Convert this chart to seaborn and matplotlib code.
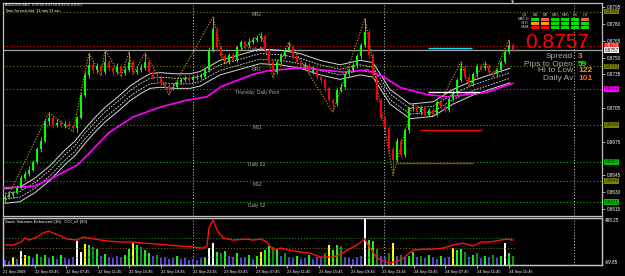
import matplotlib
matplotlib.use("Agg")
import matplotlib.pyplot as plt
import matplotlib.transforms as mtransforms
from matplotlib.patches import Rectangle
import numpy as np
import pandas as pd
import seaborn as sns

# ---------------- data ----------------
BASE = 0.8600          # price of 0 pips
PIP = 0.0001

open_first = 24
close_pips = [26, 27, 29, 34, 43, 46, 50, 57, 68, 76,
              93, 96, 90, 92, 89, 91, 89, 87, 96, 117,
              134, 143, 139, 142, 137, 146, 141, 137, 142, 136,
              139, 146, 137, 139, 141, 146, 137, 133, 132, 127,
              125, 123, 124, 128, 130, 132, 130, 132, 133, 133,
              139, 157, 175, 159, 151, 146, 152, 148, 159, 164,
              161, 164, 166, 167, 169, 157, 146, 137, 146, 152,
              157, 159, 151, 146, 142, 143, 137, 139, 133, 130,
              123, 112, 109, 121, 124, 135, 139, 143, 151, 161,
              173, 152, 134, 112, 96, 87, 68, 59, 76, 63,
              85, 105, 106, 101, 105, 99, 103, 100, 110, 106,
              103, 113, 119, 130, 141, 133, 127, 135, 142, 141,
              142, 137, 135, 139, 146, 155, 161, 157]
high_pips = [28, 30, 31, 36, 45, 49, 53, 59, 70, 79,
             95, 101, 98, 95, 94, 93, 93, 91, 98, 119,
             137, 154, 146, 145, 144, 157, 148, 143, 145, 144,
             142, 155, 148, 142, 144, 154, 148, 139, 135, 134,
             129, 127, 127, 130, 132, 134, 134, 134, 135, 136,
             141, 159, 186, 177, 161, 153, 154, 154, 161, 166,
             166, 167, 168, 170, 172, 171, 159, 148, 148, 154,
             159, 164, 161, 153, 148, 146, 145, 142, 141, 135,
             132, 125, 114, 123, 127, 137, 141, 146, 153, 163,
             185, 175, 154, 136, 114, 98, 89, 70, 78, 78,
             87, 107, 109, 108, 108, 107, 105, 105, 112, 112,
             108, 115, 121, 132, 146, 143, 135, 137, 144, 144,
             146, 144, 139, 141, 148, 157, 166, 163]
low_pips = [21, 24, 25, 28, 33, 41, 44, 49, 55, 66,
            75, 90, 88, 88, 87, 87, 87, 84, 84, 95,
            115, 132, 135, 136, 134, 135, 138, 134, 135, 133,
            134, 137, 135, 135, 137, 139, 135, 131, 129, 125,
            122, 117, 121, 122, 126, 128, 128, 128, 130, 131,
            131, 137, 155, 156, 149, 144, 144, 146, 146, 157,
            158, 159, 162, 164, 165, 155, 144, 132, 135, 144,
            150, 155, 149, 144, 140, 140, 135, 135, 131, 127,
            120, 110, 101, 107, 119, 122, 133, 137, 141, 149,
            159, 150, 132, 110, 94, 84, 65, 45, 57, 60,
            61, 83, 102, 99, 99, 97, 97, 98, 98, 104,
            101, 101, 111, 117, 128, 131, 124, 125, 133, 138,
            139, 135, 133, 133, 137, 144, 153, 155]

x_labels = ["21 Sep 2009", "22 Sep 03:45", "22 Sep 07:45", "22 Sep 11:45",
            "22 Sep 15:45", "22 Sep 19:45", "22 Sep 23:45", "23 Sep 03:45",
            "23 Sep 07:45", "23 Sep 11:45", "23 Sep 15:45", "23 Sep 19:45",
            "23 Sep 23:45", "24 Sep 03:45", "24 Sep 07:45", "24 Sep 11:45",
            "24 Sep 15:45"]

# slow moving average (magenta)
ma_x = [-0.5, 7, 11, 18, 19.5, 26, 32, 39, 45.5, 50.5, 54, 62, 65.5, 74, 79,
        84.5, 90.5, 94.5, 99, 105.5, 110.5, 115.5, 120.5, 124.5, 127]
ma_pips = [34, 35, 41, 54, 59, 83, 97, 106, 112, 115, 124, 135, 138, 141, 139,
           137, 139, 133, 123, 117, 115, 117, 119, 124, 127]

# envelope band centre (white)
band_x = [0, 3.75, 7.5, 11.25, 15, 17.5, 20, 22.5, 25, 28.75, 31.25, 33.75,
          36.25, 38.75, 42.5, 46.25, 48.75, 51.25, 53.75, 58.75, 63.75, 68.75,
          73.75, 78.75, 83.75, 88.75, 92, 96.25, 101.25, 107, 112, 117, 122,
          126.25]
band_pips = [26.5, 28, 36, 47, 61, 69, 80, 90, 99, 110, 118, 124,
             129, 130, 129, 129, 131, 136, 141, 146, 151, 150,
             147, 141, 137, 141, 139, 115, 102, 104, 115, 123, 129,
             134]
band_outer = 6.5
band_inner = 2.5

# zigzag swing points
zz_x = [0, 11, 17, 21, 24, 25, 29, 31, 32, 35, 41, 52, 55, 64, 67, 71, 82, 90,
        97, 102, 107, 114, 116, 120, 122, 126]
zz_pips = [21, 101, 84, 154, 134, 157, 133, 155, 135, 154, 117, 186, 144, 172,
           132, 164, 101, 185, 45, 109, 98, 146, 124, 146, 133, 166]

pivot_names = ["MR2", "Daily R1", "MR1", "Thursday  Daily Pivot", "MS1",
               "Daily S1", "MS2", "Daily S2"]
pivot_prices = [0.8791, 0.8760, 0.8742, 0.8722, 0.8690, 0.8657, 0.8640, 0.8621]
pivot_colors = ["#808000", "#ff0000", "#808000", "#ff00ff", "#808000",
                "#00c000", "#808000", "#00c000"]
bid_price = 0.8757
price_ticks = [0.8795, 0.8780, 0.8765, 0.8750, 0.8735, 0.8705, 0.8675,
               0.8645, 0.8630, 0.8615]

seg_prices = [0.87585, 0.8719, 0.8685, 0.8656]
seg_start = [105.75, 105.75, 103.75, 98]
seg_end = [116.75, 118.75, 119.25, 117]
seg_colors = ["#00e5ee", "#ffffff", "#ff0000", "#d02010"]

vol = [5, 4, 8, 6, 14, 10, 9, 7, 11, 8,
       10, 7, 9, 6, 10, 7, 6, 8, 24, 13,
       21, 20, 18, 16, 9, 11, 8, 7, 9, 8,
       10, 16, 22, 20, 18, 15, 12, 9, 10, 7,
       8, 6, 7, 9, 6, 7, 5, 6, 5, 7,
       8, 17, 22, 13, 12, 14, 9, 8, 12, 7,
       8, 10, 6, 9, 13, 15, 19, 18, 16, 9,
       12, 8, 7, 9, 6, 7, 10, 6, 8, 7,
       12, 20, 15, 20, 19, 8, 7, 6, 8, 9,
       60, 25, 24, 16, 9, 8, 12, 22, 9, 10,
       7, 9, 13, 8, 9, 7, 10, 8, 6, 9,
       7, 8, 17, 15, 16, 13, 8, 10, 12, 7,
       9, 8, 10, 7, 9, 22, 12, 9]
vol_kind = ("bbybwygbgd" "gbgbgbbbww" "ygdgbgbbbb" "ggygdggbdb" "bbbgbbbbbb"
            "gwwgdgbbgb" "bgbgyggdgb" "dbbgbbgbbb" "dyggdbbbbb" "wggdbbdybd"
            "bggbdbgbbg" "bbyggdbgdb" "gbdbgwgd")

cci_x = [0, 2, 4, 5, 6, 8, 9.5, 11, 12, 14, 15.5, 18, 19.5, 21, 24, 26, 29, 32,
         34.5, 38, 40.5, 44, 47, 49.5, 50.5, 51, 52, 53, 54.5, 57, 60.5, 62, 64,
         65.5, 67, 69, 71, 74, 76, 79, 82, 84, 85.5, 87.5, 89, 90, 90.5, 92, 93,
         96, 99, 100.5, 102, 105, 107, 109.5, 112, 114.5, 117, 119, 121, 124,
         125.5, 127]
cci_v = [167, 167, 202, 250, 226, 262, 310, 333, 310, 274, 238, 226, 262, 250,
         226, 214, 202, 202, 190, 179, 167, 155, 143, 131, 155, 369, 464, 345,
         250, 226, 238, 226, 238, 202, 107, 131, 107, 84, 72, 24, 24, 60, 107,
         155, 202, 238, 190, 84, 12, -48, -12, 48, 107, 119, 119, 131, 167,
         190, 155, 202, 202, 226, 238, 226]
cci_levels = [250, 131, 24]
cci_level_colors = ["#2e8b2e", "#808000", "#a02020"]

grid_cols = ["M1", "M5", "M15", "M30", "H1", "H4"]
grid_rows = ["MACD", "STR", "EMA"]
grid_state = [["g", "s", "g", "g", "g", "s"],
              ["o", "o", "g", "g", "g", "g"],
              ["r", "r", "g", "g", "g", "g"]]

info_names = ["Spread", "Pips to Open", "Hi to Low", "Daily Av"]
info_values = ["3", "59", "122", "101"]
info_colors = ["#ff8c00", "#00ff00", "#ff8c00", "#ff6020"]

# ---------------- style ----------------
sns.set_theme(style="dark", rc={"axes.facecolor": "black",
                                "figure.facecolor": "black",
                                "savefig.facecolor": "black"})
plt.rcParams["font.family"] = ["Liberation Sans", "DejaVu Sans"]

W, H = 625, 276
fig = plt.figure(figsize=(W / 100, H / 100), dpi=100)
SMALL = 3.3


def fx(px):
    return px / W


def fy(py):
    return 1 - py / H


ax = fig.add_axes([fx(3), fy(216), fx(599), 213 / H])
ax2 = fig.add_axes([fx(3), fy(265), fx(599), 47 / H])
ax2c = ax2.twinx()

XMIN, XMAX = -0.5, 149.25
for a in (ax, ax2, ax2c):
    a.set_xlim(XMIN, XMAX)
    a.set_facecolor("black")
    a.grid(False)
ax2c.patch.set_visible(False)

ax.set_ylim(BASE + 8.7 * PIP, BASE + 198.6 * PIP)

n = len(close_pips)
idx = np.arange(n)
df = pd.DataFrame({"i": idx,
                   "o": BASE + PIP * np.array([open_first] + close_pips[:-1]),
                   "c": BASE + PIP * np.array(close_pips),
                   "h": BASE + PIP * np.array(high_pips),
                   "l": BASE + PIP * np.array(low_pips)})
df["up"] = df["c"] >= df["o"]
col = np.where(df["up"], "#00ff00", "#ff0000")

# pivot lines
for p, c_ in zip(pivot_prices, pivot_colors):
    ax.axhline(p, color=c_, lw=0.8, ls=(0, (1, 2)), zorder=1)
ax.axhline(bid_price, color="#a0a0a0", lw=0.9, zorder=1)

# day separators
for d in range(4):
    xs = -0.5 + 47.6 * d
    for a in (ax, ax2):
        a.axvline(xs, color="#d0d0d0", lw=0.7, ls=(0, (1, 2)), zorder=1)

lab_tr = mtransforms.blended_transform_factory(ax.transAxes, ax.transData)
for name, p in zip(pivot_names, pivot_prices):
    ax.text(0.424, p - 0.6 * PIP, name, transform=lab_tr, ha="center", va="top",
            fontsize=SMALL, color="#b0b0b0", zorder=2)

# envelope bands
bc = np.array(band_pips, dtype=float)
bx = np.array(band_x)
for off, ls, lw, cc in [(band_outer, "-", 0.7, "#d8d8d8"), (-band_outer, "-", 0.7, "#d8d8d8"),
                        (band_inner, (0, (2, 1.5)), 0.6, "#e8e8e8"),
                        (-band_inner, (0, (2, 1.5)), 0.6, "#e8e8e8")]:
    sns.lineplot(x=bx, y=BASE + PIP * (bc + off), ax=ax, color=cc, lw=lw,
                 linestyle=ls, estimator=None, sort=False, zorder=3)

# slow MA
sns.lineplot(x=ma_x, y=BASE + PIP * np.array(ma_pips), ax=ax, color="#ff00ff",
             lw=1.2, estimator=None, sort=False, zorder=4)

# zigzag
sns.lineplot(x=zz_x, y=BASE + PIP * np.array(zz_pips), ax=ax, color="#e0a020",
             lw=0.8, linestyle=(0, (1, 1.5)), estimator=None, sort=False, zorder=4)

# candles
ax.vlines(df["i"], df["l"], df["h"], colors=col, lw=0.7, zorder=5)
body_lo = np.minimum(df["o"], df["c"])
body_h = np.maximum(np.abs(df["c"] - df["o"]), 0.6 * PIP)
ax.bar(df["i"], body_h, bottom=body_lo, width=0.62, color=col, linewidth=0, zorder=6)

# horizontal level segments
for p, s, e, c_ in zip(seg_prices, seg_start, seg_end, seg_colors):
    ax.hlines(p, s, e, color=c_, lw=1.0, zorder=7)

# right price axis
ax.yaxis.tick_right()
ax.set_yticks(price_ticks)
ax.set_yticklabels([f"{t:.4f}" for t in price_ticks])
ax.tick_params(axis="y", colors="#c0c0c0", labelcolor="white", labelsize=SMALL,
               length=2, width=0.6, pad=1.5, right=True)
ax.set_xticks([])
ax.set_ylabel("")

box_text = {"#808000": "#202000", "#ff0000": "white", "#ff00ff": "#200020",
            "#00c000": "#002000"}
label_shift = {0.8760: 0.6, 0.8757: -0.6}
rtr = mtransforms.blended_transform_factory(ax.transAxes, ax.transData)
for p, c_ in zip(pivot_prices, pivot_colors):
    ax.text(1.004, p + label_shift.get(p, 0) * PIP, f"{p:.4f}", transform=rtr,
            ha="left", va="center", fontsize=SMALL, color=box_text[c_],
            clip_on=False, zorder=10,
            bbox=dict(boxstyle="square,pad=0.08", fc=c_, ec="none"))
ax.text(1.004, bid_price + label_shift[0.8757] * PIP, f"{bid_price:.4f}", transform=rtr,
        ha="left", va="center", fontsize=SMALL, color="black", clip_on=False, zorder=10,
        bbox=dict(boxstyle="square,pad=0.08", fc="white", ec="none"))

# lower panel: volumes + CCI
vcmap = {"b": "#5548c8", "g": "#22ee22", "d": "#109010", "y": "#ffff00", "w": "#ffffff"}
ax2.bar(idx, vol, width=0.62, color=[vcmap[k] for k in vol_kind], linewidth=0, zorder=2)
ax2.set_ylim(0, 47)
for lv, cc in zip(cci_levels, cci_level_colors):
    ax2c.hlines(lv, -0.5, n - 0.5, color=cc, lw=0.7, ls=(0, (1, 2)), zorder=1)
sns.lineplot(x=cci_x, y=cci_v, ax=ax2c, color="#ff1010", lw=1.0,
             estimator=None, sort=False, zorder=5)
ax2c.set_ylim(-69.85, 488.25)
ax2c.set_yticks([])
ax2c.set_ylabel("")
ax2.set_yticks([])

ticks = [-0.5 + 7.9 * k for k in range(len(x_labels))]
ax2.set_xticks(ticks)
ax2.set_xticklabels(x_labels, ha="left")
ax2.tick_params(axis="x", colors="#c0c0c0", labelcolor="white", labelsize=2.9,
                length=2.5, width=0.6, pad=1, bottom=True)

for a in (ax, ax2, ax2c):
    for s in a.spines.values():
        s.set_color("#c0c0c0")
        s.set_linewidth(0.9)

# texts
fig.text(fx(5), fy(5), "AUDUSD,M15  0.8755 0.8759 0.8755 0.8757", fontsize=2.8,
         color="white", va="center", ha="left")
fig.text(fx(5), fy(11), "Time for next bar: 11 min 13 sec", fontsize=2.8,
         color="white", va="center", ha="left")
fig.text(fx(5), fy(221.5), "Sonic Volumes Enhanced (10)   CCI_v2 (63)", fontsize=3.1,
         color="white", va="center", ha="left")
fig.text(fx(605), fy(220.5), "488.25", fontsize=SMALL, color="white", va="center", ha="left")
fig.text(fx(605), fy(262.5), "-69.85", fontsize=SMALL, color="white", va="center", ha="left")

# big price
fig.text(fx(589), fy(48), f"{bid_price:.4f}", fontsize=15, color="#ff0000",
         ha="right", va="baseline")

# signal grid
scol = {"g": "#00e000", "s": "#f06050", "o": "#ffa000", "r": "#ff0000"}
col_x = [531, 541, 551, 561, 571, 581]
row_y = [18, 22, 26]
fig.text(fx(524), fy(15), "Q8", fontsize=2.8, color="#c0c0c0", ha="center", va="center")
for cx, cn in zip(col_x, grid_cols):
    fig.text(fx(cx + 4), fy(15), cn, fontsize=2.8, color="#c0c0c0", ha="center", va="center")
for ry, rn, states in zip(row_y, grid_rows, grid_state):
    fig.text(fx(529), fy(ry + 1.5), rn, fontsize=2.8, color="#c0c0c0", ha="right", va="center")
    for cx, st in zip(col_x, states):
        fig.patches.append(Rectangle((fx(cx), fy(ry + 3)), fx(8), 3 / H,
                                     transform=fig.transFigure, fc=scol[st], ec="none"))

info_y = [57, 64, 71, 78.5]
for yy, nm, vv, cc in zip(info_y, info_names, info_values, info_colors):
    fig.text(fx(573), fy(yy), nm, fontsize=6.0, color="#a8a8a8", ha="right", va="center")
    fig.text(fx(578), fy(yy), vv, fontsize=6.0, color=cc, ha="left", va="center",
             weight="bold")

# shift marker
fig.text(fx(513), fy(3), "\u25bc", fontsize=3.0, color="#c0c0c0", ha="center", va="center",
         family=["DejaVu Sans"])

fig.savefig("out.png", dpi=100, facecolor="black")
